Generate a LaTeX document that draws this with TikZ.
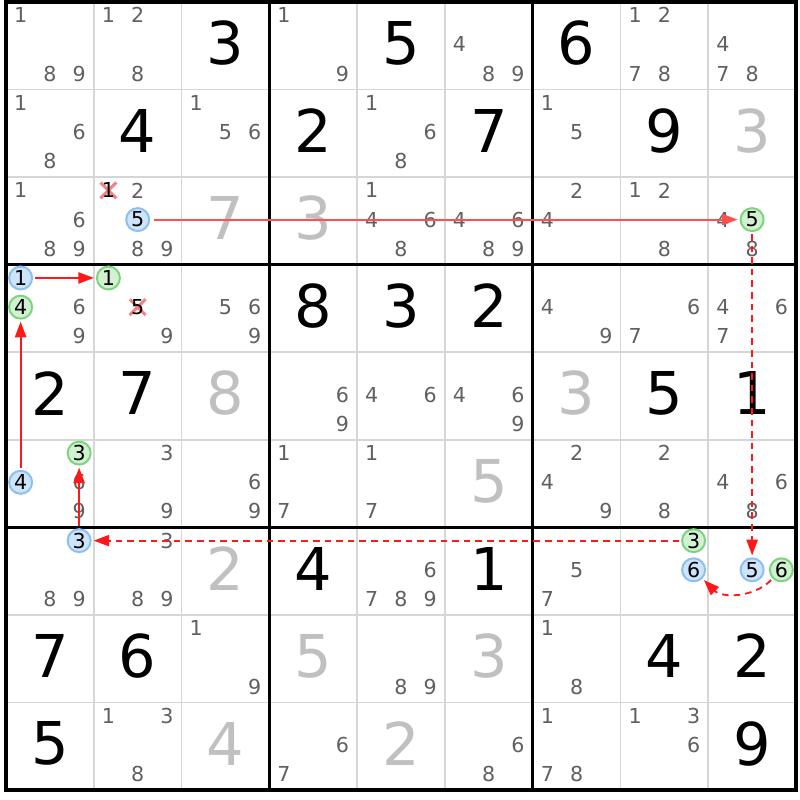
\documentclass[tikz,border=0pt]{standalone}
\usepackage{fontspec}
\setmainfont{DejaVu Sans}
\usetikzlibrary{arrows.meta}
\definecolor{candgray}{RGB}{96,96,96}
\definecolor{solvedgray}{RGB}{192,192,192}
\definecolor{gridgray}{RGB}{214,214,214}
\definecolor{bluefill}{RGB}{205,228,250}
\definecolor{blueline}{RGB}{140,192,240}
\definecolor{greenfill}{RGB}{210,240,210}
\definecolor{greenline}{RGB}{126,212,126}
\definecolor{linkred}{RGB}{255,24,24}
\definecolor{palered}{RGB}{255,80,80}
\definecolor{elimred}{RGB}{245,130,130}
\tikzset{
  cand/.style={inner sep=0pt, text=candgray, font=\fontsize{10.3}{12}\selectfont},
  given/.style={inner sep=0pt, text=black, font=\fontsize{29.5}{32}\selectfont},
  solved/.style={given, text=solvedgray},
  markbase/.style={circle, draw, line width=1pt, minimum size=11.5pt, inner sep=0pt, text=black, font=\fontsize{10.3}{12}\selectfont},
  markblue/.style={markbase, draw=blueline, fill=bluefill},
  markgreen/.style={markbase, draw=greenline, fill=greenfill},
  elimx/.style={draw=elimred, line width=1.5pt},
  gridthin/.style={draw=gridgray, line width=0.9pt},
  gridthick/.style={draw=black, line width=1.7pt},
  link/.style={draw=linkred, line width=0.9pt, -{Triangle[length=7.8pt,width=5.6pt]}, shorten <=1pt, shorten >=1pt},
  weak/.style={link, dash pattern=on 3.3pt off 2.5pt},
  strongpale/.style={draw=palered, line width=1pt, -{Triangle[length=7.8pt,width=5.6pt]}, shorten <=2pt, shorten >=1pt}
}
\newcommand\SdkXY[3]{\pgfmathsetmacro\px{#2-1+(mod(#3-1,3)+0.5)/3}\pgfmathsetmacro\py{-(#1-1+(int((#3-1)/3)+0.5)/3)+0.015}}
\newcommand\SdkCand[3]{\foreach \d in {#3}{\SdkXY{#1}{#2}{\d}\node[cand] (k#1#2\d) at (\px,\py) {\d};}}
\newcommand\SdkMark[4]{\SdkXY{#2}{#3}{#4}\node[#1] (m#2#3#4) at (\px,\py) {#4};}
\newcommand\SdkElim[3]{\SdkXY{#1}{#2}{#3}\draw[elimx] (\px,\py) ++(-0.09,-0.09) -- ++(0.18,0.18) (\px,\py) ++(-0.09,0.09) -- ++(0.18,-0.18);\node[cand,text=black] (k#1#2#3) at (\px,\py) {#3};}
\newcommand\SdkGiven[3]{\node[given] (g#1#2) at (#2-0.5,-#1+0.53) {#3};}
\newcommand\SdkSolved[3]{\node[solved] (s#1#2) at (#2-0.5,-#1+0.53) {#3};}
\begin{document}
\begin{tikzpicture}[x=43.89pt,y=43.78pt]
\useasboundingbox (-0.06835,0.02284) rectangle (9.04534,-9.11375);
\fill[white] (-0.06835,0.02284) rectangle (9.04534,-9.11375);
% grid
\foreach \i in {1,2,4,5,7,8}{
  \draw[gridthin] (\i,0) -- (\i,-9);
  \draw[gridthin] (0,-\i) -- (9,-\i);
}
\foreach \i in {3,6}{
  \draw[gridthick] (\i,0) -- (\i,-9);
  \draw[gridthick] (0,-\i) -- (9,-\i);
}
\draw[gridthick, line width=2pt] (0,0) rectangle (9,-9);
% row 1
\SdkCand{1}{1}{1,8,9}
\SdkCand{1}{2}{1,2,8}
\SdkGiven{1}{3}{3}
\SdkCand{1}{4}{1,9}
\SdkGiven{1}{5}{5}
\SdkCand{1}{6}{4,8,9}
\SdkGiven{1}{7}{6}
\SdkCand{1}{8}{1,2,7,8}
\SdkCand{1}{9}{4,7,8}
% row 2
\SdkCand{2}{1}{1,6,8}
\SdkGiven{2}{2}{4}
\SdkCand{2}{3}{1,5,6}
\SdkGiven{2}{4}{2}
\SdkCand{2}{5}{1,6,8}
\SdkGiven{2}{6}{7}
\SdkCand{2}{7}{1,5}
\SdkGiven{2}{8}{9}
\SdkSolved{2}{9}{3}
% row 3
\SdkCand{3}{1}{1,6,8,9}
\SdkElim{3}{2}{1}
\SdkCand{3}{2}{2,8,9}
\SdkMark{markblue}{3}{2}{5}
\SdkSolved{3}{3}{7}
\SdkSolved{3}{4}{3}
\SdkCand{3}{5}{1,4,6,8}
\SdkCand{3}{6}{4,6,8,9}
\SdkCand{3}{7}{2,4}
\SdkCand{3}{8}{1,2,8}
\SdkCand{3}{9}{4,8}
\SdkMark{markgreen}{3}{9}{5}
% row 4
\SdkMark{markblue}{4}{1}{1}
\SdkMark{markgreen}{4}{1}{4}
\SdkCand{4}{1}{6,9}
\SdkMark{markgreen}{4}{2}{1}
\SdkElim{4}{2}{5}
\SdkCand{4}{2}{9}
\SdkCand{4}{3}{5,6,9}
\SdkGiven{4}{4}{8}
\SdkGiven{4}{5}{3}
\SdkGiven{4}{6}{2}
\SdkCand{4}{7}{4,9}
\SdkCand{4}{8}{6,7}
\SdkCand{4}{9}{4,6,7}
% row 5
\SdkGiven{5}{1}{2}
\SdkGiven{5}{2}{7}
\SdkSolved{5}{3}{8}
\SdkCand{5}{4}{6,9}
\SdkCand{5}{5}{4,6}
\SdkCand{5}{6}{4,6,9}
\SdkSolved{5}{7}{3}
\SdkGiven{5}{8}{5}
\SdkGiven{5}{9}{1}
% row 6
\SdkMark{markgreen}{6}{1}{3}
\SdkMark{markblue}{6}{1}{4}
\SdkCand{6}{1}{6,9}
\SdkCand{6}{2}{3,9}
\SdkCand{6}{3}{6,9}
\SdkCand{6}{4}{1,7}
\SdkCand{6}{5}{1,7}
\SdkSolved{6}{6}{5}
\SdkCand{6}{7}{2,4,9}
\SdkCand{6}{8}{2,8}
\SdkCand{6}{9}{4,6,8}
% row 7
\SdkMark{markblue}{7}{1}{3}
\SdkCand{7}{1}{8,9}
\SdkCand{7}{2}{3,8,9}
\SdkSolved{7}{3}{2}
\SdkGiven{7}{4}{4}
\SdkCand{7}{5}{6,7,8,9}
\SdkGiven{7}{6}{1}
\SdkCand{7}{7}{5,7}
\SdkMark{markgreen}{7}{8}{3}
\SdkMark{markblue}{7}{8}{6}
\SdkMark{markblue}{7}{9}{5}
\SdkMark{markgreen}{7}{9}{6}
% row 8
\SdkGiven{8}{1}{7}
\SdkGiven{8}{2}{6}
\SdkCand{8}{3}{1,9}
\SdkSolved{8}{4}{5}
\SdkCand{8}{5}{8,9}
\SdkSolved{8}{6}{3}
\SdkCand{8}{7}{1,8}
\SdkGiven{8}{8}{4}
\SdkGiven{8}{9}{2}
% row 9
\SdkGiven{9}{1}{5}
\SdkCand{9}{2}{1,3,8}
\SdkSolved{9}{3}{4}
\SdkCand{9}{4}{6,7}
\SdkSolved{9}{5}{2}
\SdkCand{9}{6}{6,8}
\SdkCand{9}{7}{1,7,8}
\SdkCand{9}{8}{1,3,6}
\SdkGiven{9}{9}{9}
% links
\draw[strongpale] (m325) -- (m395);
\draw[weak] (m395) -- (m795);
\draw[weak] (m796) to[bend left=45] (m786);
\draw[weak] (m783) -- (m713);
\draw[link] (m713) -- (m613);
\draw[link] (m614) -- (m414);
\draw[link] (m411) -- (m421);
\end{tikzpicture}
\end{document}
